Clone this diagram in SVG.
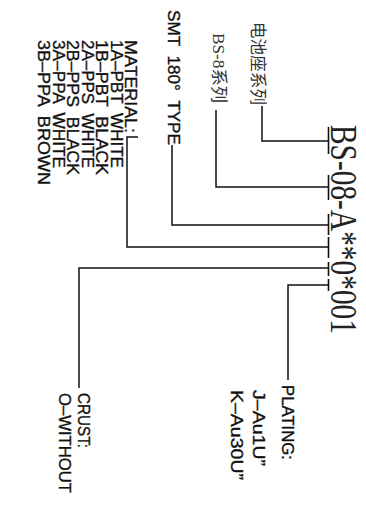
<svg xmlns="http://www.w3.org/2000/svg" width="366" height="506" viewBox="0 0 366 506" xml:space="preserve">
<style>
.lbl{font-family:"Liberation Sans",Arial,sans-serif;font-size:17px;fill:#111;stroke:#111;stroke-width:0.35;white-space:pre;}
.code{font-family:"Liberation Serif","Times New Roman",serif;font-size:37px;fill:#222;}
.cjk{font-family:"Liberation Serif","Noto Sans CJK SC",serif;font-size:17px;fill:#333;}
.ln{stroke:#111;stroke-width:1.5;fill:none;}
.tk{stroke:#111;stroke-width:1.6;fill:none;}
</style>
<rect width="366" height="506" fill="#fff"/>
<g id="code"><text class="code" transform="translate(331,125) rotate(90)" textLength="209" lengthAdjust="spacingAndGlyphs">BS-08-A**0*001</text></g>
<g id="series-cn"><text class="cjk" transform="translate(252,22) rotate(90)" textLength="83" lengthAdjust="spacingAndGlyphs">电池座系列</text></g>
<g id="series"><text class="cjk" transform="translate(213,33) rotate(90)" textLength="70" lengthAdjust="spacingAndGlyphs">BS-8系列</text></g>
<g id="type"><text class="lbl" transform="translate(168,10) rotate(90)" textLength="135" lengthAdjust="spacingAndGlyphs">SMT  180°  TYPE</text></g>
<g id="material">
<text class="lbl" transform="translate(125,40) rotate(90)" textLength="93" lengthAdjust="spacingAndGlyphs">MATERIAL:</text>
<text class="lbl" transform="translate(110.5,40) rotate(90)" textLength="128" lengthAdjust="spacingAndGlyphs">1A–PBT  WHITE</text>
<text class="lbl" transform="translate(96,40) rotate(90)" textLength="135" lengthAdjust="spacingAndGlyphs">1B–PBT  BLACK</text>
<text class="lbl" transform="translate(81.5,40) rotate(90)" textLength="128" lengthAdjust="spacingAndGlyphs">2A–PPS  WHITE</text>
<text class="lbl" transform="translate(67,40) rotate(90)" textLength="135" lengthAdjust="spacingAndGlyphs">2B–PPS  BLACK</text>
<text class="lbl" transform="translate(52.5,40) rotate(90)" textLength="128" lengthAdjust="spacingAndGlyphs">3A–PPA  WHITE</text>
<text class="lbl" transform="translate(38,40) rotate(90)" textLength="145" lengthAdjust="spacingAndGlyphs">3B–PPA  BROWN</text>
</g>
<g id="crust">
<text class="lbl" transform="translate(78,393) rotate(90)" textLength="55" lengthAdjust="spacingAndGlyphs">CRUST:</text>
<text class="lbl" transform="translate(59,393) rotate(90)" textLength="100" lengthAdjust="spacingAndGlyphs">O–WITHOUT</text>
</g>
<g id="plating">
<text class="lbl" transform="translate(282,385) rotate(90)" textLength="75" lengthAdjust="spacingAndGlyphs">PLATING:</text>
<text class="lbl" transform="translate(253,390) rotate(90)" textLength="76" lengthAdjust="spacingAndGlyphs">J–Au1U”</text>
<text class="lbl" transform="translate(231,390) rotate(90)" textLength="90" lengthAdjust="spacingAndGlyphs">K–Au30U”</text>
</g>
<g id="connectors">
<path class="ln" d="M262,106 V141 H328"/>
<path class="ln" d="M216,110 V187 H328"/>
<path class="ln" d="M172,145 V225 H328"/>
<path class="ln" d="M138,137 H127 V247 H328"/>
<path class="ln" d="M79,388 V268 H328"/>
<path class="ln" d="M288,380 V285 H328"/>
<path class="tk" d="M328.5,127 V154 M328.5,175 V200 M328.5,214 V235 M328.5,237 V258 M328.5,262 V276 M328.5,279 V291"/>
</g>
</svg>
